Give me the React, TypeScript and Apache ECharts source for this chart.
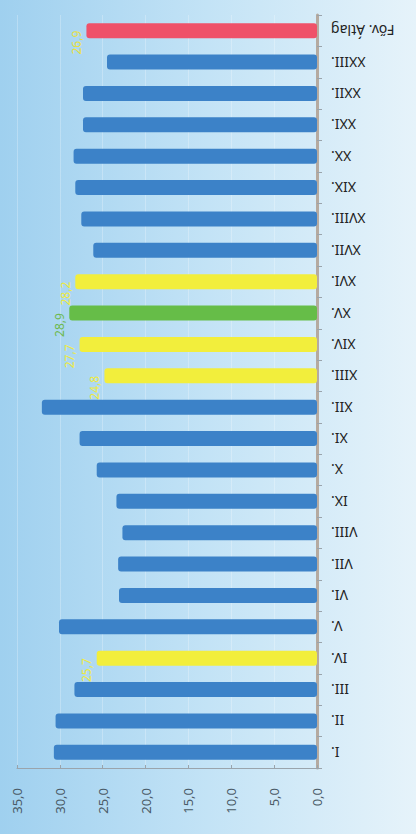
import React, { useEffect, useRef } from "react";
import * as echarts from "echarts";

const categories = ["I.", "II.", "III.", "IV.", "V.", "VI.", "VII.", "VIII.", "IX.", "X.", "XI.", "XII.", "XIII.", "XIV.", "XV.", "XVI.", "XVII.", "XVIII.", "XIX.", "XX.", "XXI.", "XXII.", "XXIII.", "Főv. Átlag"];
const values = [30.7, 30.5, 28.3, 25.7, 30.1, 23.1, 23.2, 22.7, 23.4, 25.7, 27.7, 32.1, 24.8, 27.7, 28.9, 28.2, 26.1, 27.5, 28.2, 28.4, 27.3, 27.3, 24.5, 26.9];
// colour group per category: b = blue, y = yellow, g = green, r = red
const groups = ["b", "b", "b", "y", "b", "b", "b", "b", "b", "b", "b", "b", "y", "y", "g", "y", "b", "b", "b", "b", "b", "b", "b", "r"];
const labelled = [false, false, false, true, false, false, false, false, false, false, false, false, true, true, true, true, false, false, false, false, false, false, false, true];

const colorMap: Record<string, string> = {
  b: "#3c82c8",
  y: "#f2ee3c",
  g: "#66bd48",
  r: "#ef5169",
};
const labelColorMap: Record<string, string> = {
  b: "#3c82c8",
  y: "#eeea40",
  g: "#6db94f",
  r: "#e8e040",
};

export default function App() {
  const ref = useRef<HTMLDivElement>(null);
  useEffect(() => {
    if (!ref.current) return;
    const chart = echarts.init(ref.current, null, { renderer: "svg" });
    const data = values.map((v, i) => ({
      value: v,
      itemStyle: { color: colorMap[groups[i]] },
      label: {
        show: labelled[i],
        color: labelColorMap[groups[i]],
      },
    }));
    chart.setOption({
      animation: false,
      backgroundColor: new echarts.graphic.LinearGradient(0, 0, 1, 0, [
        { offset: 0, color: "#9fd0ef" },
        { offset: 0.5, color: "#c3e3f6" },
        { offset: 1, color: "#e6f3fa" },
      ]),
      grid: { left: 17, right: 99, top: 15, bottom: 66, containLabel: false },
      xAxis: {
        type: "value",
        inverse: true,
        min: 0,
        max: 35,
        interval: 5,
        position: "bottom",
        axisLine: { show: true, lineStyle: { color: "#9aa4ac", width: 1 } },
        axisTick: { show: true, inside: true, length: 3, lineStyle: { color: "#9aa4ac" } },
        splitLine: { show: true, lineStyle: { color: "rgba(255,255,255,0.25)" } },
        axisLabel: {
          rotate: 90,
          margin: 20,
          fontSize: 13,
          color: "#4a5a66",
          fontFamily: "Noto Sans",
          formatter: (v: number) => v.toFixed(1).replace(".", ","),
        },
      },
      yAxis: {
        type: "category",
        data: categories,
        position: "right",
        axisLine: { show: true, lineStyle: { color: "#b5aaa0", width: 3 } },
        axisTick: { show: true, length: 5, lineStyle: { color: "#9aa4ac" } },
        axisLabel: {
          rotate: 180,
          margin: 14,
          fontSize: 14,
          color: "#222222",
          fontFamily: "Noto Sans",
        },
      },
      series: [
        {
          type: "bar",
          data,
          barWidth: 15,
          itemStyle: { borderRadius: 3 },
          label: {
            show: false,
            position: "left",
            rotate: 90,
            distance: 10,
            fontSize: 12,
            fontFamily: "Noto Sans",
            formatter: (p: any) => Number(p.value).toFixed(1).replace(".", ","),
          },
        },
      ],
    });
    return () => chart.dispose();
  }, []);
  return (
    <div
      ref={ref}
      style={{ position: "fixed", left: 0, top: 0, width: 416, height: 834 }}
    />
  );
}
